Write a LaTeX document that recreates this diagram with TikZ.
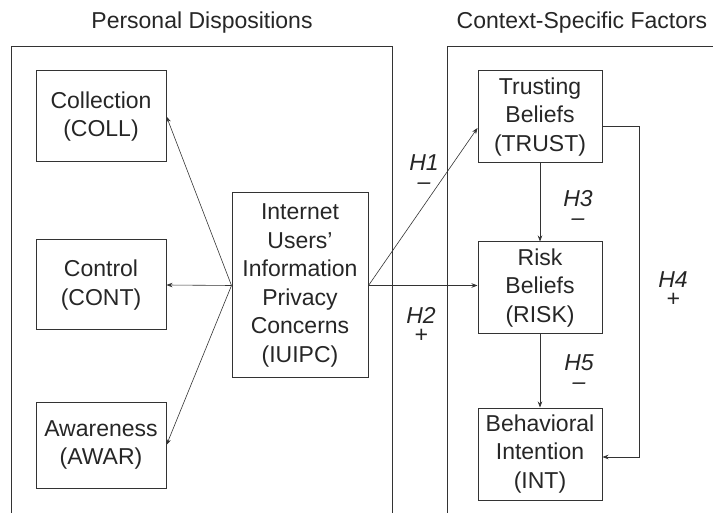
\documentclass[tikz,border=0pt]{standalone}
\usepackage{fontspec}
\setmainfont{Liberation Sans}
\usetikzlibrary{arrows.meta,calc}
\begin{document}
\begin{tikzpicture}[x=1pt,y=-1pt,
  every node/.style={font=\fontsize{23}{28.5}\selectfont, text=black!85},
  box/.style={draw=black!80, line width=1pt, align=center, inner sep=0pt},
  frame/.style={draw=black!80, line width=1pt},
  arr/.style={draw=black!80, line width=0.6pt, -{Stealth[length=6pt,width=4.5pt]}},
  hyp/.style={font=\fontsize{23}{19}\selectfont\itshape, inner sep=0pt, align=center},
]
\useasboundingbox (0,0) rectangle (713,513);

% titles
\node (t1) at (202,23) {Personal Dispositions};
\node (t2) at (582,23) {Context-Specific Factors};

% frames
\draw[frame] (11,513) -- (11,47) -- (392,47) -- (392,513);
\draw[frame] (447,513) -- (447,47) -- (714,47);

% left boxes
\node[box, minimum width=130pt, minimum height=91pt] (coll) at (101,116.5) {Collection\\(COLL)};
\node[box, minimum width=130pt, minimum height=90pt] (cont) at (101,285) {Control\\(CONT)};
\node[box, minimum width=130pt, minimum height=86pt] (awar) at (101,445) {Awareness\\(AWAR)};
\node[box, minimum width=136pt, minimum height=185pt] (iu) at (300,285.5) {Internet\\Users'\\Information\\Privacy\\Concerns\\(IUIPC)};

% right boxes
\node[box, minimum width=124pt, minimum height=92pt] (trust) at (540,117) {Trusting\\Beliefs\\(TRUST)};
\node[box, minimum width=124pt, minimum height=92pt] (risk) at (540,288) {Risk\\Beliefs\\(RISK)};
\node[box, minimum width=124pt, minimum height=92pt] (int) at (540,454) {Behavioral\\Intention\\(INT)};

% connectors
\draw[arr] (iu.west) -- (coll.east);
\draw[arr] (iu.west) -- (cont.east);
\draw[arr] (iu.west) -- (awar.east);
\coordinate (trin) at ($(trust.west)+(0,11)$);
\draw[arr] (iu.east) -- (trin);
\draw[arr] (iu.east) -- (iu.east -| risk.west);
\draw[arr] (trust.south) -- (risk.north);
\draw[arr] (risk.south) -- (int.north);
\coordinate (trout) at ($(trust.east)+(0,9)$);
\coordinate (tc1) at (639,126);
\coordinate (tc2) at (639,457);
\coordinate (intin) at ($(int.east)+(0,3)$);
\draw[arr] (trout) -- (tc1) -- (tc2) -- (intin);

% hypothesis labels
\node[hyp] (h1) at (424,172) {H1\\–};
\node[hyp] (h2) at (421,325) {H2\\+};
\node[hyp] (h3) at (578,208) {H3\\–};
\node[hyp] (h4) at (673,289) {H4\\+};
\node[hyp] (h5) at (579,372.5) {H5\\–};
\end{tikzpicture}
\end{document}
